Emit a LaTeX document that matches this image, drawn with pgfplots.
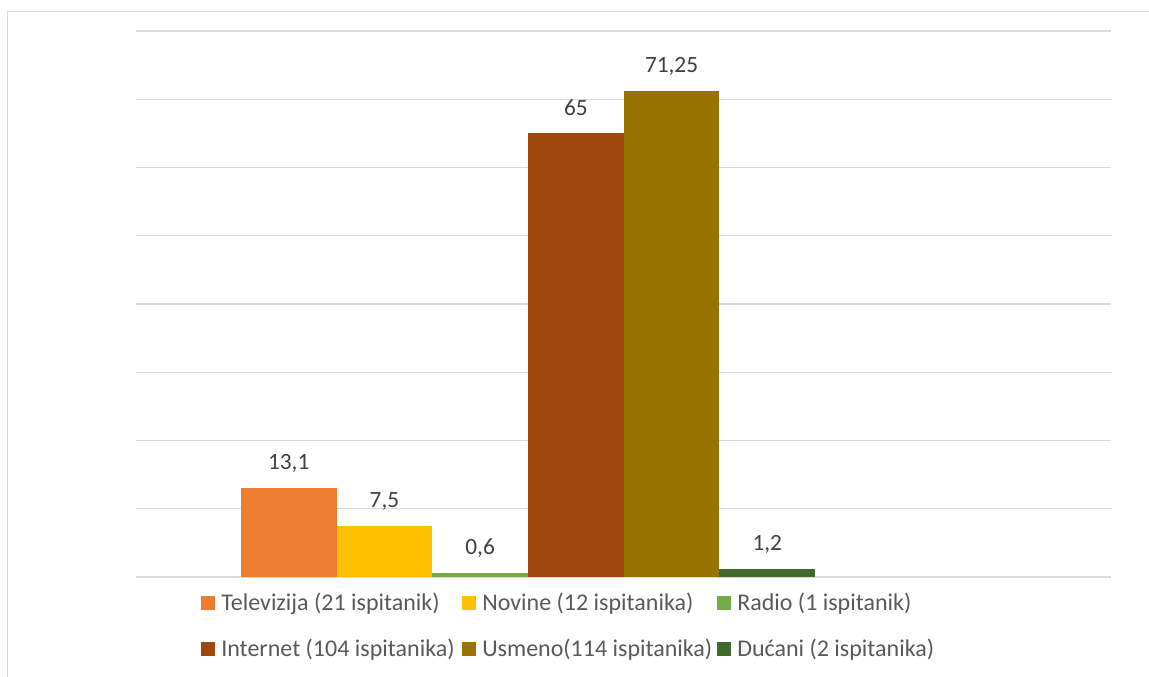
\documentclass[border=0pt]{standalone}
\usepackage{fontspec}
\setmainfont{Carlito}
\usepackage{pgfplots}
\pgfplotsset{compat=1.18}
\definecolor{cTV}{HTML}{ED7D31}
\definecolor{cNov}{HTML}{FFC000}
\definecolor{cRad}{HTML}{70AD47}
\definecolor{cInt}{HTML}{9E480E}
\definecolor{cUsm}{HTML}{997300}
\definecolor{cDuc}{HTML}{43682B}
\definecolor{gridgray}{HTML}{D9D9D9}
\definecolor{labgray}{HTML}{404040}
\definecolor{leggray}{HTML}{595959}
\pgfplotsset{sq legend/.style={legend image code/.code={\fill[##1,draw=none] (0pt,-5.25pt) rectangle (10.5pt,5.25pt);}}}
\begin{document}
\begin{tikzpicture}[x=0.75pt,y=0.75pt]
\path[use as bounding box] (0,0) rectangle (1149,677);
\draw[gridgray, line width=1.2pt] (7.5,-10) -- (7.5,665.3) -- (1160,665.3);
\begin{axis}[
  at={(102pt,75pt)}, anchor=south west,
  scale only axis, width=731.25pt, height=409.5pt,
  xmin=-392, xmax=583, ymin=0, ymax=80,
  ytick={0,10,...,80}, xtick=\empty, yticklabels={},
  major tick length=0pt,
  ymajorgrids, grid style={gridgray, line width=1pt},
  axis line style={draw=none},
  ybar=0pt, bar width=71.78pt,
  clip=false,
  nodes near coords, point meta=explicit symbolic,
  every node near coord/.append style={font=\fontsize{17.5}{20}\selectfont, text=labgray, anchor=base, inner sep=0pt, yshift=13.5pt},
  legend columns=3,
  legend style={draw=none, fill=none, inner sep=0pt, at={(0.0667,-0.0286)}, anchor=north west,
    font=\fontsize{18}{21}\selectfont, text=leggray, row sep=19.75pt,
    nodes={inner sep=0pt, anchor=west},
    /tikz/every odd column/.append style={column sep=4.5pt},
    /tikz/every even column/.append style={column sep=0pt}},
]
\addplot[fill=cTV, draw=none, sq legend] coordinates {(0,13.1) [13,1]};
\addplot[fill=cNov, draw=none, sq legend] coordinates {(0,7.5) [7,5]};
\addplot[fill=cRad, draw=none, sq legend] coordinates {(0,0.6) [0,6]};
\addplot[fill=cInt, draw=none, sq legend] coordinates {(0,65) [65]};
\addplot[fill=cUsm, draw=none, sq legend] coordinates {(0,71.25) [71,25]};
\addplot[fill=cDuc, draw=none, sq legend] coordinates {(0,1.2) [1,2]};
\legend{\makebox[180.75pt][l]{Televizija (21 ispitanik)}, \makebox[176.25pt][l]{Novine (12 ispitanika)}, Radio (1 ispitanik), \makebox[180.75pt][l]{Internet (104 ispitanika)}, \makebox[176.25pt][l]{Usmeno(114 ispitanika)}, Dućani (2 ispitanika)}
\end{axis}
\end{tikzpicture}
\end{document}
